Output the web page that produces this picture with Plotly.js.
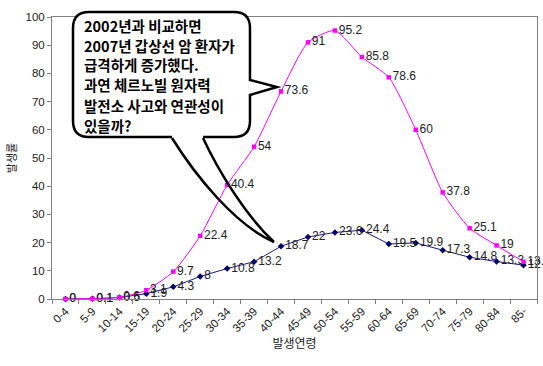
<!DOCTYPE html>
<html>
<head>
<meta charset="utf-8">
<script src="https://cdn.plot.ly/plotly-3.0.1.min.js"></script>
<style>html,body{margin:0;padding:0;background:#fff;}</style>
</head>
<body>
<div id="chart" style="width:543px;height:366px;"></div>
<script>
const categories = ["0-4","5-9","10-14","15-19","20-24","25-29","30-34","35-39","40-44","45-49","50-54","55-59","60-64","65-69","70-74","75-79","80-84","85-"];
const rate2007 = [0, 0.1, 0.6, 3.1, 9.7, 22.4, 40.4, 54, 73.6, 91, 95.2, 85.8, 78.6, 60, 37.8, 25.1, 19, 13.2];
const rate2002 = [0, 0.1, 0.5, 1.9, 4.3, 8, 10.8, 13.2, 18.7, 22, 23.6, 24.4, 19.5, 19.9, 17.3, 14.8, 13.3, 12];
const calloutLines = ["2002년과 비교하면", "2007년 갑상선 암 환자가", "급격하게 증가했다.", "과연 체르노빌 원자력", "발전소 사고와 연관성이", "있을까?"];
const xTitle = "발생연령";
const yTitle = "발생률";

// layout geometry (pixels)
const W = 543, H = 366, ML = 52, MR = 6, MT = 17, MB = 67;
const PW = W - ML - MR, PH = H - MT - MB;
const px = X => ((X - ML) / PW).toFixed(4);
const py = Y => ((H - MB - Y) / PH).toFixed(4);
const P = (X, Y) => px(X) + "," + py(Y);

const labelFont = {family: "Liberation Sans, Arial, sans-serif", size: 12, color: "#222"};

const traces = [
  {
    x: categories, y: rate2002, type: "scatter", mode: "lines+markers+text",
    text: rate2002.map(String), textposition: "middle right", textfont: labelFont,
    line: {color: "#1a1a80", width: 1},
    marker: {symbol: "diamond", size: 5, color: "#000066"},
    cliponaxis: false, hoverinfo: "skip", showlegend: false
  },
  {
    x: categories, y: rate2007, type: "scatter", mode: "lines+markers+text",
    text: rate2007.map(String), textposition: "middle right", textfont: labelFont,
    line: {color: "#ff00ff", width: 1, shape: "spline", smoothing: 0.6},
    marker: {symbol: "square", size: 4.5, color: "#ff00ff"},
    cliponaxis: false, hoverinfo: "skip", showlegend: false
  }
];

// callout box path
const L = 73, T = 12, R = 250, B = 137, r = 16;
const boxPath = "M" + P(203, B) + " L" + P(R - r, B) + " Q" + P(R, B) + " " + P(R, B - r) +
  " L" + P(R, 95) + " L" + P(277, 87) + " L" + P(R, 80) +
  " L" + P(R, T + r) + " Q" + P(R, T) + " " + P(R - r, T) +
  " L" + P(L + r, T) + " Q" + P(L, T) + " " + P(L, T + r) +
  " L" + P(L, B - r) + " Q" + P(L, B) + " " + P(L + r, B) +
  " L" + P(172, B);
const tailPath = "M" + P(172, 138) + " C" + P(195, 175) + " " + P(235, 225) + " " + P(274, 242) +
  " C" + P(245, 215) + " " + P(218, 170) + " " + P(203, 138);

const lineY = [25, 46, 65, 85, 106, 125];
const annotations = calloutLines.map((t, i) => ({
  text: "<b>" + t + "</b>", xref: "paper", yref: "paper",
  x: +px(82), y: +py(lineY[i]), xanchor: "left", yanchor: "middle",
  showarrow: false, font: {family: "Noto Sans CJK KR, sans-serif", size: 14.5, color: "#000"}
}));

const layout = {
  width: W, height: H,
  margin: {l: ML, r: MR, t: MT, b: MB, pad: 0},
  paper_bgcolor: "#fff", plot_bgcolor: "#fff",
  font: {family: "Liberation Sans, Arial, sans-serif", size: 11, color: "#222"},
  xaxis: {
    type: "category", range: [-0.5, 17.5], showgrid: false, zeroline: false,
    showline: true, linecolor: "#808080", linewidth: 1, mirror: true,
    ticks: "outside", ticklen: 4, tickcolor: "#808080", tickson: "boundaries",
    tickangle: -45, tickfont: {family: "Liberation Sans, Arial, sans-serif", size: 11.5, color: "#222"},
    title: {text: xTitle, font: {family: "Noto Sans CJK KR, sans-serif", size: 12, color: "#222"}, standoff: 4}
  },
  yaxis: {
    range: [0, 100], dtick: 10, showgrid: false, zeroline: false,
    showline: true, linecolor: "#808080", linewidth: 1, mirror: true,
    ticks: "outside", ticklen: 4, tickcolor: "#808080",
    tickfont: {family: "Liberation Sans, Arial, sans-serif", size: 11.5, color: "#222"},
    title: {text: yTitle, font: {family: "Noto Sans CJK KR, sans-serif", size: 11, color: "#222"}, standoff: 6}
  },
  shapes: [
    {type: "path", xref: "paper", yref: "paper", path: boxPath, fillcolor: "#fff",
     line: {color: "#000", width: 2.5}, layer: "above"},
    {type: "path", xref: "paper", yref: "paper", path: tailPath, fillcolor: "rgba(0,0,0,0)",
     line: {color: "#000", width: 2.5}, layer: "above"}
  ],
  annotations: annotations
};

Plotly.newPlot("chart", traces, layout, {displayModeBar: false, staticPlot: true});
</script>
</body>
</html>
